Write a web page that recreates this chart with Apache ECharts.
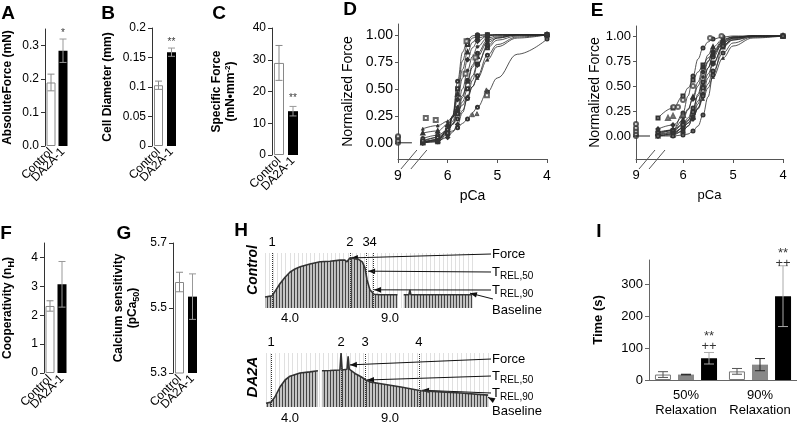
<!DOCTYPE html>
<html><head><meta charset="utf-8">
<script src="https://cdn.jsdelivr.net/npm/echarts@6.0.0/dist/echarts.min.js"></script>
<style>html,body{margin:0;padding:0;background:#fff;}#c{width:797px;height:424px;}</style>
</head><body><div id="c"></div>
<script>
// ================= DATA =================
const groups = ['Control', 'DA2A-1'];
const absForceMean = [0.19, 0.285];
const absForceErr = [0.025, 0.035];
const diameterMean = [0.103, 0.159];
const diameterErr = [0.007, 0.007];
const specForceMean = [29, 13.8];
const specForceErr = [5.5, 1.5];
const coopMean = [2.32, 3.07];
const coopErr = [0.18, 0.79];
const sensMean = [5.58, 5.535];
const sensErr = [0.03, 0.07];

const ticksA = [0, 0.1, 0.2, 0.3];
const ticksB = [0, 0.05, 0.1, 0.15, 0.2];
const ticksC = [0, 10, 20, 30, 40];
const ticksF = [0, 1, 2, 3, 4];
const ticksG = [5.3, 5.5, 5.7];
const ticksNorm = [0, 0.25, 0.5, 0.75, 1];
const ticksPca = [6, 5, 4];
const ticksTime = [0, 100, 200, 300];

const starsA = [[1, 0.338, '*']];
const starsB = [[1, 0.176, '**']];
const starsC = [[1, 18, '**']];

// pCa force curves (panel D: control fibres, panel E: DA2A-1 fibres)
const pcaSamples = [6.5, 6.2, 6.0, 5.9, 5.8, 5.7, 5.6, 5.5, 5.4, 5.2, 5.0, 4.6, 4.0];
const pcaMeasured = [6.5, 6.2, 6.0, 5.8, 5.6, 5.4, 5.2, 4.0];
const dCurves = [
  [0.00,0.01,0.08,0.25,0.57,0.84,0.95,0.99,1.00,1.00,1.00,1.00,1.00],
  [0.00,0.01,0.09,0.24,0.50,0.76,0.91,0.97,0.99,1.00,1.00,1.00,1.00],
  [0.00,0.02,0.12,0.25,0.45,0.68,0.84,0.93,0.97,0.99,1.00,1.00,1.00],
  [0.00,0.03,0.12,0.23,0.40,0.60,0.77,0.88,0.94,0.99,1.00,1.00,1.00],
  [0.00,0.03,0.11,0.20,0.33,0.50,0.67,0.80,0.89,0.97,0.99,1.00,1.00],
  [0.01,0.03,0.10,0.17,0.28,0.42,0.58,0.72,0.83,0.95,0.98,1.00,1.00],
  [0.09,0.11,0.17,0.24,0.32,0.44,0.57,0.70,0.80,0.93,0.97,1.00,1.00],
  [0.01,0.05,0.12,0.18,0.27,0.38,0.50,0.62,0.73,0.88,0.95,0.99,1.00],
  [0.00,0.02,0.05,0.10,0.17,0.28,0.42,0.58,0.72,0.90,0.97,1.00,1.00],
  [0.04,0.07,0.12,0.17,0.22,0.30,0.41,0.52,0.62,0.81,0.91,0.98,1.00],
  [0.13,0.16,0.20,0.24,0.29,0.35,0.43,0.52,0.60,0.77,0.89,0.97,1.00],
  [0.02,0.05,0.09,0.11,0.14,0.18,0.22,0.28,0.33,0.47,0.60,0.82,0.96]
];
const dAt9 = [0, 0.02, 0.05, 0.06];
const dSquares = [[6.44,0.23],[6.24,0.21],[5.62,0.94],[5.44,0.79],[5.64,0.64],[5.21,0.44]];
const dTriangles = [[5.22,0.49],[5.41,0.27],[5.5,0.26]];

const eCurves = [
  [0.01,0.06,0.23,0.40,0.60,0.77,0.88,0.94,0.97,0.99,1.00,1.00,1.00],
  [0.18,0.28,0.40,0.48,0.56,0.64,0.71,0.78,0.83,0.91,0.96,0.99,1.00],
  [0.03,0.06,0.16,0.26,0.39,0.54,0.69,0.81,0.89,0.97,0.99,1.00,1.00],
  [0.07,0.11,0.19,0.27,0.37,0.50,0.64,0.75,0.84,0.94,0.98,1.00,1.00],
  [0.00,0.02,0.08,0.15,0.26,0.42,0.59,0.74,0.85,0.96,0.99,1.00,1.00],
  [0.04,0.06,0.12,0.18,0.28,0.40,0.54,0.68,0.79,0.93,0.98,1.00,1.00],
  [0.00,0.01,0.05,0.10,0.19,0.32,0.50,0.68,0.81,0.95,0.99,1.00,1.00],
  [0.03,0.05,0.11,0.16,0.24,0.35,0.48,0.62,0.73,0.89,0.96,1.00,1.00],
  [0.00,0.02,0.05,0.10,0.17,0.28,0.42,0.58,0.72,0.90,0.97,1.00,1.00],
  [0.01,0.03,0.08,0.13,0.19,0.28,0.40,0.52,0.65,0.83,0.93,0.99,1.00],
  [0.01,0.04,0.08,0.13,0.19,0.27,0.37,0.48,0.59,0.78,0.90,0.98,1.00],
  [0.00,0.00,0.01,0.02,0.05,0.10,0.21,0.39,0.61,0.90,0.98,1.00,1.00]
];
const eAt9 = [0, 0.02, 0.05, 0.08, 0.12];
const eCircles = [[6.19,0.29],[6.1,0.29],[6.0,0.36],[5.8,0.5],[5.46,0.98],[5.23,1.0]];
const eTriangles = [[6.3,0.18],[6.2,0.2],[6.0,0.21]];

// Panel H force traces (time in % of record, force in % of trace height)
const ctrlTime  = [0, 3.4, 5.3, 7.2, 9.7, 12, 14.5, 17, 21.7, 26.6, 31.4, 36.2, 38.6, 39.6, 41, 45, 47, 48.3, 49.3, 50.7, 52.7, 55.6, 64, 65.5, 67, 69.5, 70, 70.5, 75, 100];
const ctrlForce = [20, 22, 33, 44, 56, 65, 71, 75, 80, 84, 85, 87, 87, 84, 91, 89, 84, 73, 51, 33, 25, 24, 24, null, 24, 24, 33, 24, 24, 24];
const ctrlMarks = [3.4, 41, 48.8, 52.2];
const da2aTime  = [0, 2.3, 4, 6.3, 8.6, 10.8, 15.3, 19.8, 23.4, 24.3, 25.2, 28.8, 33.3, 33.8, 34.3, 36.5, 37, 37.5, 38.3, 40.5, 42.8, 45, 47.3, 51.8, 60.8, 69.8, 78.8, 87.8, 100];
const da2aForce = [7, 9, 18.5, 37, 50, 57, 63, 65, 67, null, 67, 67.5, 68.5, 100, 68.5, 70, 94, 70, 67, 61, 56, 50, 46, 43, 37, 30, 28, 26, 22];
const da2aMarks = [2.3, 33.8, 44.6, 68.9];
const markNames = ['1', '2', '3', '4'];
const ctrlArrowT = [41.5, 49.8, 52.7, 99];
const ctrlArrowV = [91, 67, 33, 27];
const da2aArrowT = [37.8, 45.5, 70.3, 100];
const da2aArrowV = [78, 50, 31, 18];

// Panel I relaxation times
const relaxCats = ['50%\nRelaxation', '90%\nRelaxation'];
const relaxCtrl = [17, 27];
const relaxCtrlErr = [9, 9];
const relaxMid = [17, 48];
const relaxMidErr = [1, 19];
const relaxDA2A = [68, 262];
const relaxDA2AErr = [18, 95];
const relaxSig = [[0, 119, '**\n++'], [1, 381, '**\n++']];

// ================= BUILD =================
const FONT = '"Liberation Sans", Arial, sans-serif';
const chart = echarts.init(document.getElementById('c'), null, {renderer: 'canvas'});
const grids = [], xAxes = [], yAxes = [], series = [];

function addGrid(box, xa, ya) {
  grids.push(Object.assign({containLabel: false, outerBoundsMode: 'none'}, box));
  const i = grids.length - 1;
  xAxes.push(Object.assign({gridIndex: i}, xa));
  yAxes.push(Object.assign({gridIndex: i}, ya));
  return i;
}

function valY(min, max, ticks, fmt, name, gap, fs, nameExtra, color) {
  color = color || '#333';
  return {type: 'value', min, max, splitLine: {show: false},
    axisLine: {show: true, onZero: false, lineStyle: {color, width: 1}},
    axisTick: {show: true, length: 4, customValues: ticks, lineStyle: {color}},
    axisLabel: {customValues: ticks, formatter: fmt, fontSize: fs, color: '#000', margin: 6},
    name, nameLocation: 'middle', nameGap: gap,
    nameTextStyle: Object.assign({fontSize: 12, fontWeight: 'bold', color: '#000', lineHeight: 14}, nameExtra || {})};
}

function errSeries(i, means, errs, colors, offsets, cap) {
  return {type: 'custom', xAxisIndex: i, yAxisIndex: i, z: 5, silent: true, clip: false,
    data: means.map((m, k) => [k, m - errs[k], m + errs[k]]),
    encode: {x: 0, y: [1, 2]},
    renderItem(params, api) {
      const x = api.value(0);
      const lo = api.coord([x, api.value(1)]);
      const hi = api.coord([x, api.value(2)]);
      const cx = lo[0] + (offsets ? offsets : 0);
      const st = {stroke: colors[params.dataIndex], lineWidth: 1};
      return {type: 'group', children: [
        {type: 'line', shape: {x1: cx, y1: lo[1], x2: cx, y2: hi[1]}, style: st},
        {type: 'line', shape: {x1: cx - cap / 2, y1: hi[1], x2: cx + cap / 2, y2: hi[1]}, style: st},
        {type: 'line', shape: {x1: cx - cap / 2, y1: lo[1], x2: cx + cap / 2, y2: lo[1]}, style: st}
      ]};
    }};
}

function starSeries(i, stars, offsetX, fs) {
  return {type: 'scatter', xAxisIndex: i, yAxisIndex: i, silent: true, clip: false, z: 6,
    symbolSize: 1, itemStyle: {color: 'rgba(0,0,0,0)'},
    data: stars,
    label: {show: true, position: 'inside', offset: [offsetX || 0, 0], formatter: p => p.data[2],
      fontSize: fs || 11, color: '#000', lineHeight: 10}};
}

function smallBar(box, ticks, fmt, means, errs, stars, name, gap, nameExtra) {
  const i = addGrid(box,
    {type: 'category', data: groups, axisLine: {show: false}, axisTick: {show: false},
     axisLabel: {rotate: 45, fontSize: 12, color: '#000', margin: 4, interval: 0}},
    valY(box.min, box.max, ticks, fmt, name, gap, 12, nameExtra));
  series.push({type: 'bar', xAxisIndex: i, yAxisIndex: i, barWidth: box.bw, silent: true,
    data: means.map((m, k) => ({value: m, itemStyle: k === 0 ? {color: '#fff', borderColor: '#888', borderWidth: 1} : {color: '#000'}}))});
  series.push(errSeries(i, means, errs, ['#888', '#999'], 0, 7));
  if (stars) series.push(starSeries(i, stars, 0, 10));
  return i;
}

// A
smallBar({left: 45, top: 29, width: 24, height: 117, min: 0, max: 0.35, bw: 9}, ticksA, v => v.toFixed(1),
  absForceMean, absForceErr, starsA, 'AbsoluteForce (mN)', 30);
// B
smallBar({left: 152, top: 28, width: 26, height: 118, min: 0, max: 0.2, bw: 9}, ticksB, v => String(v),
  diameterMean, diameterErr, starsB, 'Cell Diameter (mm)', 37);
// C
smallBar({left: 272, top: 28, width: 28, height: 127, min: 0, max: 40, bw: 10}, ticksC, v => String(v),
  specForceMean, specForceErr, starsC, 'Specific Force\n(mN•mm{sup|-2})', 34,
  {rich: {sup: {fontSize: 8, fontWeight: 'bold', padding: [0, 0, 7, 0], color: '#000'}}});
// F
smallBar({left: 44, top: 243, width: 24, height: 130, min: 0, max: 4.5, bw: 9}, ticksF, v => String(v),
  coopMean, coopErr, null, 'Cooperativity (n{sub|H})', 29,
  {rich: {sub: {fontSize: 9, fontWeight: 'bold', padding: [7, 0, 0, 0], color: '#000'}}});
// G
smallBar({left: 173, top: 243, width: 26, height: 130, min: 5.3, max: 5.7, bw: 9}, ticksG, v => v.toFixed(1),
  sensMean, sensErr, null, 'Calcium sensitivity\n(pCa{sub|50})', 33,
  {rich: {sub: {fontSize: 9, fontWeight: 'bold', padding: [7, 0, 0, 0], color: '#000'}}});

// D and E
const SYMS = ['emptyCircle', 'emptyRect', 'emptyTriangle', 'emptyDiamond', 'circle', 'emptyCircle',
  'emptyTriangle', 'emptyRect', 'emptyDiamond', 'emptyCircle', 'triangle', 'emptyCircle'];
function curvePanel(box, brk, ymin, curves, at9, zeroEnd, extras, yGap, fs) {
  const ticksX = [brk].concat(ticksPca);
  const i = addGrid({left: box.left, top: box.top, width: box.width, height: box.height},
    {type: 'value', inverse: true, min: 4, max: brk, splitLine: {show: false},
     axisLine: {show: true, onZero: false, lineStyle: {color: '#555'}},
     axisTick: {show: true, length: 4, customValues: ticksX, lineStyle: {color: '#555'}},
     axisLabel: {customValues: ticksX, formatter: v => (v > 6.5 ? '9' : String(Math.round(v))), fontSize: fs, color: '#000', margin: 10},
     name: 'pCa', nameLocation: 'middle', nameGap: 30, nameTextStyle: {fontSize: fs, color: '#000'}},
    {type: 'value', min: ymin, max: 1.1, splitLine: {show: false},
     axisLine: {show: true, onZero: false, lineStyle: {color: '#555'}},
     axisTick: {show: true, length: 3, customValues: ticksNorm, lineStyle: {color: '#555'}},
     axisLabel: {customValues: ticksNorm, formatter: v => v.toFixed(2), fontSize: fs, color: '#000', margin: 5},
     name: 'Normalized Force', nameLocation: 'middle', nameGap: yGap, nameTextStyle: {fontSize: 14, color: '#000'}});
  curves.forEach((c, k) => series.push({type: 'line', xAxisIndex: i, yAxisIndex: i, silent: true,
    smooth: 0.4, smoothMonotone: 'x', z: 2,
    data: pcaSamples.map((p, j) => pcaMeasured.indexOf(p) >= 0 ? [p, c[j]] : {value: [p, c[j]], symbol: 'none'}),
    symbol: SYMS[k % SYMS.length], symbolSize: 3, showSymbol: true,
    lineStyle: {color: '#2a2a2a', width: 0.8}, itemStyle: {color: '#333', borderColor: '#333', borderWidth: 0.7}}));
  series.push({type: 'scatter', xAxisIndex: i, yAxisIndex: i, silent: true, symbol: 'emptyCircle', symbolSize: 4,
    itemStyle: {color: '#333', borderColor: '#333'}, data: at9.map(v => [brk, v])});
  series.push({type: 'line', xAxisIndex: i, yAxisIndex: i, silent: true, symbol: 'none',
    lineStyle: {color: '#222', width: 1}, data: [[brk, 0], [zeroEnd, 0]]});
  extras.forEach(ex => series.push({type: 'scatter', xAxisIndex: i, yAxisIndex: i, silent: true,
    symbol: ex.sym, symbolSize: 4, itemStyle: {color: '#444', borderColor: '#444'}, data: ex.data}));
  return i;
}
const BRK_D = 7, BRK_E = 6.94, YMIN_D = -0.15, YMIN_E = -0.23;
const iD = curvePanel({left: 398, top: 24, width: 149, height: 135}, BRK_D, YMIN_D, dCurves, dAt9, 6.72,
  [{sym: 'emptyRect', data: dSquares}, {sym: 'triangle', data: dTriangles}], 43, 14);
const iE = curvePanel({left: 636, top: 26, width: 147, height: 133}, BRK_E, YMIN_E, eCurves, eAt9, 6.66,
  [{sym: 'emptyCircle', data: eCircles}, {sym: 'emptyTriangle', data: eTriangles}], 34, 13);

// H traces
function makePattern() {
  const c = document.createElement('canvas'); c.width = 3; c.height = 4;
  const g = c.getContext('2d');
  g.fillStyle = 'rgba(140,140,140,0.5)'; g.fillRect(0, 0, 3, 4);
  g.fillStyle = 'rgba(55,55,55,0.9)'; g.fillRect(0, 0, 1, 4);
  return c;
}
const pattern = makePattern();
function addTrace(box, t, v, marks) {
  const i = addGrid(box,
    {type: 'value', min: 0, max: 100, interval: 2, axisLine: {show: false}, axisTick: {show: false}, axisLabel: {show: false},
     splitLine: {show: true, lineStyle: {color: '#e0e0e0', width: 1}}},
    {type: 'value', min: 0, max: 100, show: false});
  series.push({type: 'line', xAxisIndex: i, yAxisIndex: i, silent: true, clip: false,
    data: t.map((x, k) => [x, v[k]]), symbol: 'none', connectNulls: false,
    lineStyle: {color: '#333', width: 1.6},
    areaStyle: {color: {image: pattern, repeat: 'repeat'}, opacity: 1, origin: 'start'},
    markLine: {silent: true, symbol: ['none', 'none'],
      lineStyle: {type: 'dotted', color: '#333', width: 1},
      label: {show: true, position: 'end', formatter: '{b}', fontSize: 13, color: '#000', distance: 4},
      data: marks.map((m, k) => ({xAxis: m, name: markNames[k]}))}});
  return i;
}
const iH1 = addTrace({left: 265, top: 253, width: 207, height: 55}, ctrlTime, ctrlForce, ctrlMarks);
const iH2 = addTrace({left: 266, top: 353, width: 222, height: 54}, da2aTime, da2aForce, da2aMarks);

// I
const iI = addGrid({left: 649, top: 260, right: 0, height: 120},
  {type: 'category', data: relaxCats, axisLine: {show: true, onZero: false, lineStyle: {color: '#666'}}, axisTick: {show: false},
   axisLabel: {fontSize: 13, color: '#000', margin: 8, lineHeight: 15, interval: 0}},
  valY(0, 375, ticksTime, v => String(v), 'Time (s)', 44, 13, {fontSize: 13}, '#666'));
const iBars = [
  {d: relaxCtrl, e: relaxCtrlErr, st: {color: '#fff', borderColor: '#777', borderWidth: 1}, ec: '#555', off: -23},
  {d: relaxMid, e: relaxMidErr, st: {color: '#888'}, ec: '#222', off: 0},
  {d: relaxDA2A, e: relaxDA2AErr, st: {color: '#000'}, ec: '#aaa', off: 23}
];
iBars.forEach(b => {
  series.push({type: 'bar', xAxisIndex: iI, yAxisIndex: iI, barWidth: 16, barGap: '44%', silent: true,
    itemStyle: b.st, data: b.d});
});
iBars.forEach(b => series.push(errSeries(iI, b.d, b.e, [b.ec, b.ec], b.off, 10)));
series.push(starSeries(iI, relaxSig, 23, 13));

chart.setOption({
  animation: false,
  textStyle: {fontFamily: FONT},
  grid: grids, xAxis: xAxes, yAxis: yAxes, series
});

// ================= ANNOTATIONS =================
const G = [];
function txt(x, y, text, style, rot) {
  G.push({type: 'text', x, y, rotation: rot || 0, silent: true,
    style: Object.assign({text, fill: '#000', fontFamily: FONT, align: 'center', verticalAlign: 'middle'}, style)});
}
// panel letters
[['A', 8, 14], ['B', 108, 14], ['C', 219, 14], ['D', 350, 10], ['E', 597, 11],
 ['F', 6, 234], ['G', 124, 234], ['H', 241, 231], ['I', 599, 232]].forEach(l =>
  txt(l[1], l[2], l[0], {fontSize: 19, fontWeight: 'bold'}));

// break marks on D and E x-axes
function breaks(gi, brk, ymin) {
  [0.22, 0.42].forEach(off => {
    const p = chart.convertToPixel({gridIndex: gi}, [brk - off, ymin]);
    G.push({type: 'line', silent: true, shape: {x1: p[0] - 8, y1: p[1] + 10, x2: p[0] + 8, y2: p[1] - 9},
      style: {stroke: '#555', lineWidth: 1}});
  });
}
breaks(iD, BRK_D, YMIN_D);
breaks(iE, BRK_E, YMIN_E);

// H labels
txt(253, 270, 'Control', {fontSize: 14, fontWeight: 'bold', fontStyle: 'italic'}, Math.PI / 2);
txt(253, 377, 'DA2A', {fontSize: 15, fontWeight: 'bold', fontStyle: 'italic'}, Math.PI / 2);
txt(290, 318, '4.0', {fontSize: 13});
txt(390, 318, '9.0', {fontSize: 13});
txt(290, 418, '4.0', {fontSize: 13});
txt(390, 418, '9.0', {fontSize: 13});

const labelRich = {s: {fontSize: 10, padding: [9, 0, 0, 0], fill: '#000'}};
const arrowTexts = ['Force', 'T{s|REL,50}', 'T{s|REL,90}', 'Baseline'];
function arrowSet(gi, ts, vs, ys) {
  ts.forEach((t, k) => {
    const tip = chart.convertToPixel({gridIndex: gi}, [t, vs[k]]);
    const sx = k === 3 ? 493 : 491;
    const sy = k === 3 ? ys[k] - 5 : ys[k];
    G.push({type: 'line', silent: true, shape: {x1: sx, y1: sy, x2: tip[0], y2: tip[1]}, style: {stroke: '#111', lineWidth: 1}});
    const dx = tip[0] - sx, dy = tip[1] - sy, L = Math.hypot(dx, dy);
    const ux = dx / L, uy = dy / L, px = -uy, py = ux;
    G.push({type: 'polygon', silent: true, shape: {points: [
      [tip[0], tip[1]],
      [tip[0] - ux * 7 + px * 2.8, tip[1] - uy * 7 + py * 2.8],
      [tip[0] - ux * 7 - px * 2.8, tip[1] - uy * 7 - py * 2.8]]}, style: {fill: '#111'}});
    G.push({type: 'text', x: 492, y: ys[k], silent: true,
      style: {text: arrowTexts[k], fontSize: 13, fontFamily: FONT, fill: '#000', align: 'left',
        verticalAlign: k === 3 ? 'top' : 'middle', rich: labelRich}});
  });
}
arrowSet(iH1, ctrlArrowT, ctrlArrowV, [254, 272, 290, 304]);
arrowSet(iH2, da2aArrowT, da2aArrowV, [359, 376, 393, 405]);

chart.setOption({graphic: G});
</script>
</body></html>
